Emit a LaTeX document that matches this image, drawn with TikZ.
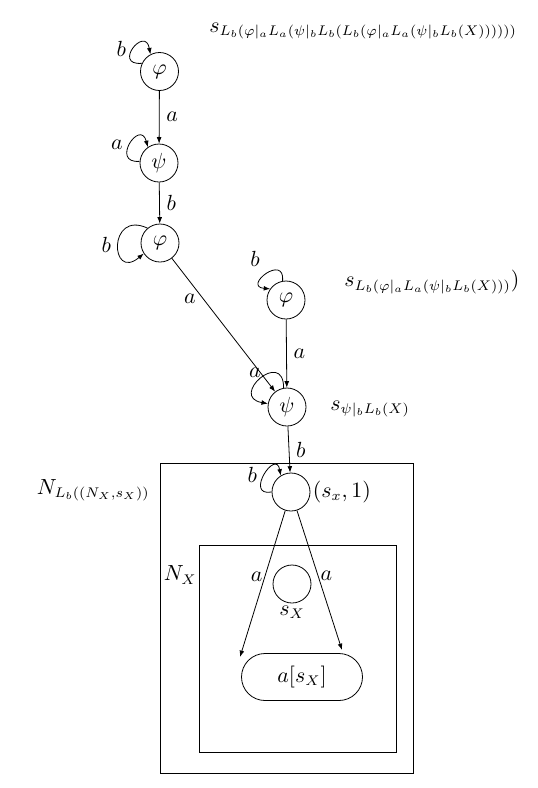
\documentclass[tikz,border=0pt]{standalone}
\usepackage{amsmath}
\usepackage{amssymb}
\usepackage{tikz}
\usetikzlibrary{
  arrows.meta,
  shapes.misc
}
\tikzset{
  statenode/.style={draw,circle,minimum size=19pt,inner sep=0pt},
  finalnode/.style={draw,rounded rectangle,minimum width=60.5pt,minimum height=23.5pt,inner sep=0pt},
  namenode/.style={inner sep=1pt},
  transarrow/.style={-{Latex[length=3.2pt,width=2.4pt]},thin},
  selfloop/.style={transarrow,distance=#1},
  selfloop/.default=15pt
}

\begin{document}
\begin{tikzpicture}[x=0.5pt,y=-0.5pt,font=\fontsize{10.6pt}{12.7pt}\selectfont]
\useasboundingbox (0,0) rectangle (537,788);
% states of the unfolded chain
\node[statenode] (phiA) at (159.5,71.5) {$\varphi$};
\node[statenode] (psiA) at (159,163) {$\psi$};
\node[statenode] (phiB) at (160,243) {$\varphi$};
\node[statenode] (phiC) at (286,300) {$\varphi$};
\node[statenode] (psiC) at (287,407) {$\psi$};
\node[statenode, label={[namenode]right:$(s_x,1)$}] (sxone) at (291,492) {};

% nested networks
\draw (160,463) rectangle (413,773);
\draw (199,545) rectangle (396,752);
\node[statenode, label={[namenode]below:$s_X$}] (sX) at (292,584) {};
\node[finalnode] (asX) at (302,677) {$a[s_X]$};
\coordinate (endL) at (240,657);
\coordinate (endR) at (342,650);

% names
\node[namenode, anchor=west] (nameA) at (207,31) {$s_{L_b(\varphi|_aL_a(\psi|_bL_b(L_b(\varphi|_aL_a(\psi|_bL_b(X))))))}$};
\node[namenode, anchor=west] (nameC) at (342,282) {$s_{L_b(\varphi|_aL_a(\psi|_bL_b(X)))})$};
\node[namenode, anchor=west] (namepsi) at (328,409) {$s_{\psi|_bL_b(X)}$};
\node[namenode, anchor=east] (outername) at (152,490) {$N_{L_b((N_X,s_X))}$};
\node[namenode, anchor=east] (innername) at (199,575) {$N_X$};

% self loops
\draw[selfloop] (phiA.155) to[out=185,in=100] node[left] {$b$} (phiA.118);
\draw[selfloop] (psiA.175) to[out=185,in=105] node[left] {$a$} (psiA.125);
\draw[selfloop=22pt] (phiB.130) to[out=155,in=220] node[left] {$b$} (phiB.213);
\draw[selfloop=14pt] (phiC.100) to[out=85,in=175] node[above left] {$b$} (phiC.145);
\draw[selfloop=20pt] (psiC.100) to[out=90,in=170] node[above left,inner sep=0pt] {$a$} (psiC.170);
\draw[selfloop=14pt] (sxone.180) to[out=190,in=100] node[left] {$b$} (sxone.122);

% transitions
\draw[transarrow] (phiA) -- node[right] {$a$} (psiA);
\draw[transarrow] (psiA) -- node[right] {$b$} (phiB);
\draw[transarrow] (phiB) -- node[left,pos=0.3] {$a$} (psiC);
\draw[transarrow] (phiC) -- node[right] {$a$} (psiC);
\draw[transarrow] (psiC) -- node[right] {$b$} (sxone);
\draw[transarrow] (sxone) -- node[left,pos=0.45,inner sep=1pt] {$a$} (endL);
\draw[transarrow] (sxone) -- node[right,pos=0.47,inner sep=1pt] {$a$} (endR);
\end{tikzpicture}
\end{document}
